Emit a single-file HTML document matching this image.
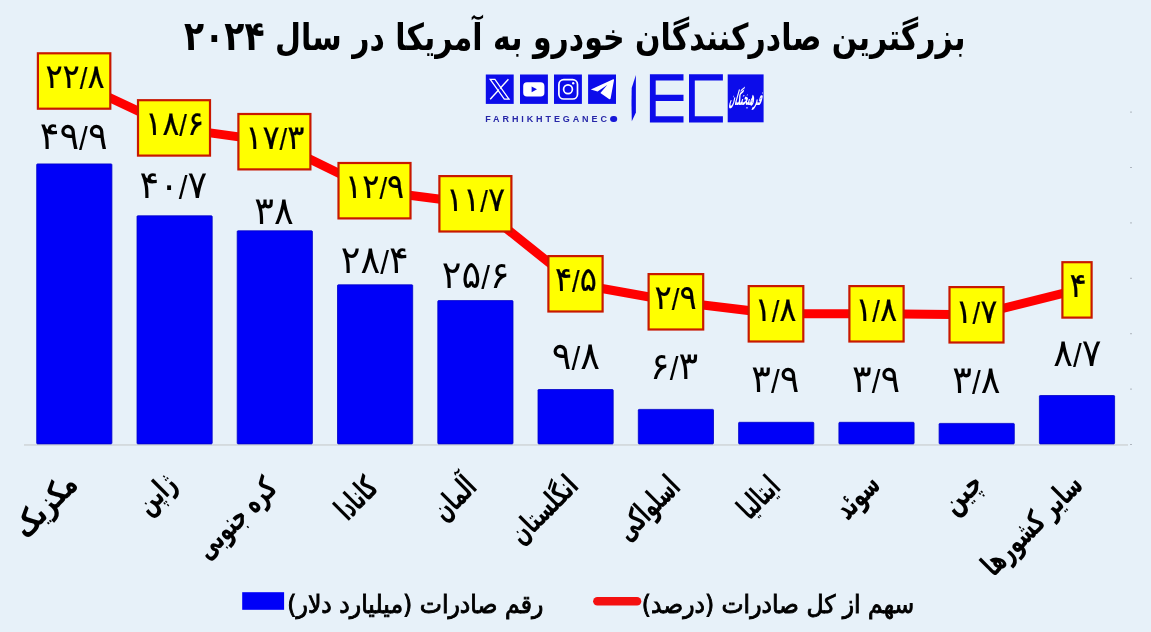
<!DOCTYPE html>
<html lang="fa">
<head>
<meta charset="utf-8">
<title>بزرگترین صادرکنندگان خودرو به آمریکا در سال ۲۰۲۴</title>
<style>
html,body{margin:0;padding:0;background:#e7f1f9;}
#chart{position:relative;width:1151px;height:632px;background:#e7f1f9;overflow:hidden;font-family:"Liberation Sans","DejaVu Sans",sans-serif;color:#000;}
#chart svg{position:absolute;left:0;top:0;}
.t{position:absolute;left:0;top:0;white-space:nowrap;line-height:1;transform-origin:0 0;margin:0;padding:0;}
.fa{font-family:"DejaVu Sans","Liberation Sans",sans-serif;direction:rtl;}
.title{font-weight:bold;}
.td{font-size:1.1em;letter-spacing:0.1em;line-height:0;}
.ax{font-weight:bold;}
.lg{font-weight:normal;-webkit-text-stroke:0.9px #000;}
.bx{-webkit-text-stroke:0.2px #000;}
.num2{font-family:"Liberation Sans","DejaVu Sans",sans-serif;direction:ltr;unicode-bidi:isolate;}
.sl{font-size:0.86em;position:relative;top:0.035em;}
.brand{font-family:"Liberation Sans",sans-serif;font-weight:bold;color:#2626a8;direction:ltr;}
.o{display:inline-block;width:6.6px;height:6.6px;border-radius:50%;background:#1818d8;color:#1818d8;font-size:5px;line-height:6.6px;letter-spacing:0;overflow:hidden;vertical-align:-0.4px;margin-left:0.3px;}
.callig{font-family:"DejaVu Sans","Liberation Sans",sans-serif;color:#fff;direction:rtl;font-weight:bold;}
</style>
</head>
<body>
<div id="chart">
<svg width="1151" height="632" viewBox="0 0 1151 632">
<rect x="24" y="444.1" width="1104" height="1.7" fill="#d2d7db"/>
<rect x="1130" y="111.6" width="2" height="1" fill="#8a9098" opacity="0.6"/>
<rect x="1130" y="167.0" width="2" height="1" fill="#8a9098" opacity="0.6"/>
<rect x="1130" y="222.4" width="2" height="1" fill="#8a9098" opacity="0.6"/>
<rect x="1130" y="277.8" width="2" height="1" fill="#8a9098" opacity="0.6"/>
<rect x="1130" y="333.2" width="2" height="1" fill="#8a9098" opacity="0.6"/>
<rect x="1130" y="388.6" width="2" height="1" fill="#8a9098" opacity="0.6"/>
<rect x="1130" y="444.0" width="2" height="1" fill="#8a9098" opacity="0.6"/>
<rect x="36.7" y="163.9" width="75.2" height="280.0" rx="0.8" fill="#0000f8" stroke="#0000c8" stroke-width="0.8"/>
<rect x="137.0" y="215.8" width="75.2" height="228.1" rx="0.8" fill="#0000f8" stroke="#0000c8" stroke-width="0.8"/>
<rect x="237.2" y="230.8" width="75.2" height="213.1" rx="0.8" fill="#0000f8" stroke="#0000c8" stroke-width="0.8"/>
<rect x="337.5" y="284.8" width="75.2" height="159.1" rx="0.8" fill="#0000f8" stroke="#0000c8" stroke-width="0.8"/>
<rect x="437.8" y="300.6" width="75.2" height="143.3" rx="0.8" fill="#0000f8" stroke="#0000c8" stroke-width="0.8"/>
<rect x="538.0" y="389.5" width="75.2" height="54.4" rx="0.8" fill="#0000f8" stroke="#0000c8" stroke-width="0.8"/>
<rect x="638.3" y="409.4" width="75.2" height="34.5" rx="0.8" fill="#0000f8" stroke="#0000c8" stroke-width="0.8"/>
<rect x="738.6" y="422.3" width="75.2" height="21.6" rx="0.8" fill="#0000f8" stroke="#0000c8" stroke-width="0.8"/>
<rect x="838.9" y="422.3" width="75.2" height="21.6" rx="0.8" fill="#0000f8" stroke="#0000c8" stroke-width="0.8"/>
<rect x="939.1" y="423.4" width="75.2" height="20.5" rx="0.8" fill="#0000f8" stroke="#0000c8" stroke-width="0.8"/>
<rect x="1039.4" y="395.5" width="75.2" height="48.4" rx="0.8" fill="#0000f8" stroke="#0000c8" stroke-width="0.8"/>
<polyline points="74.1,81.0 174.0,127.9 274.4,141.7 374.5,190.7 475.4,203.8 575.5,283.8 675.9,301.8 776.0,313.8 876.5,313.8 976.5,314.8 1077.0,289.9" fill="none" stroke="#ff0000" stroke-width="9" stroke-linejoin="round"/>
<rect x="37.9" y="53.3" width="72.4" height="55.4" fill="#ffff00" stroke="#c81800" stroke-width="2.2"/>
<rect x="138.0" y="100.2" width="72.0" height="55.4" fill="#ffff00" stroke="#c81800" stroke-width="2.2"/>
<rect x="238.4" y="114.0" width="72.0" height="55.4" fill="#ffff00" stroke="#c81800" stroke-width="2.2"/>
<rect x="338.5" y="163.0" width="72.0" height="55.4" fill="#ffff00" stroke="#c81800" stroke-width="2.2"/>
<rect x="439.4" y="176.1" width="72.0" height="55.4" fill="#ffff00" stroke="#c81800" stroke-width="2.2"/>
<rect x="548.4" y="256.1" width="54.2" height="55.4" fill="#ffff00" stroke="#c81800" stroke-width="2.2"/>
<rect x="648.6" y="274.1" width="54.6" height="55.4" fill="#ffff00" stroke="#c81800" stroke-width="2.2"/>
<rect x="748.7" y="286.1" width="54.6" height="55.4" fill="#ffff00" stroke="#c81800" stroke-width="2.2"/>
<rect x="849.4" y="286.1" width="54.2" height="55.4" fill="#ffff00" stroke="#c81800" stroke-width="2.2"/>
<rect x="949.5" y="287.1" width="54.0" height="55.4" fill="#ffff00" stroke="#c81800" stroke-width="2.2"/>
<rect x="1062.4" y="262.2" width="29.2" height="55.4" fill="#ffff00" stroke="#c81800" stroke-width="2.2"/>
<rect x="242.2" y="592.2" width="41.9" height="17.6" fill="#0000f8"/>
<line x1="597.4" y1="601.2" x2="637" y2="601.2" stroke="#f41010" stroke-width="8.6" stroke-linecap="round"/>
<rect x="485.8" y="74.5" width="27.9" height="29.4" fill="#0c0cea"/>
<rect x="520.0" y="74.5" width="27.9" height="29.4" fill="#0c0cea"/>
<rect x="554.0" y="74.5" width="27.9" height="29.4" fill="#0c0cea"/>
<rect x="588.1" y="74.5" width="27.9" height="29.4" fill="#0c0cea"/>
<path d="M490.2 79.4 H494.9 L509 99.1 H504.3 Z" fill="none" stroke="#fff" stroke-width="1.3" stroke-linejoin="miter"/><path d="M508.4 79.3 L490.2 99.2" stroke="#fff" stroke-width="1.4" fill="none"/><path d="M492.6 80.4 H494.3 L506.6 98.1 H504.9 Z" fill="#0c0cea"/>
<rect x="523.2" y="82.2" width="21.2" height="14.3" rx="3.8" fill="#fff"/><path d="M531.6 86.4 L537.0 89.35 L531.6 92.3 Z" fill="#0c0cea"/>
<rect x="558.9" y="79.7" width="18.6" height="19.3" rx="4.8" fill="none" stroke="#fff" stroke-width="1.7"/><circle cx="568" cy="89.2" r="4.4" fill="none" stroke="#fff" stroke-width="1.7"/><circle cx="573.2" cy="83.3" r="1.2" fill="#fff"/>
<path d="M590.8 89.4 L613.2 79.3 Q614.2 79 614 80.2 L610.6 98.6 Q610.2 99.9 609 99 L600.4 93 L607.2 84.9 L597.6 91.4 Z" fill="#fff"/>
<path d="M635.9 75 V112.5 L631.8 121.3 Q631.2 104 631.7 88 Z" fill="#0c0cea"/>
<path d="M649.9 74.3 H683.5 V80.6 H655.7 V94.8 H683.5 V101 H655.7 V116.2 H683.5 V122.5 H649.9 Z" fill="#0c0cea"/>
<path d="M689 74.3 H722.9 V80.6 H694.8 V116.2 H722.9 V122.5 H689 Z" fill="#0c0cea"/>
<rect x="727.7" y="74.4" width="35.9" height="47.9" fill="#0c0cea"/>
</svg>
<span id="title" class="t fa title" style="font-size:37px;transform:translate(184.10px,18.60px) scale(0.8100,1);">بزرگترین صادرکنندگان خودرو به آمریکا در سال <span class="td">۲۰۲۴</span></span>
<span id="brand" class="t brand" style="font-size:9px;letter-spacing:2.90px;transform:translate(485.20px,114.90px)">FARHIKHTEGANEC<span class="o">O</span></span>
<span id="callig" class="t callig" style="font-size:10px;transform:translate(733.40px,88.80px) skewX(-16deg) scale(0.6056,2.0367)">فرهیختگان</span>
<span id="box0" class="t num2 bx" style="font-size:34.07px;transform:translate(45.40px,59.10px) scale(0.9391,1);">۲۲<span class="sl">/</span>۸</span>
<span id="box1" class="t num2 bx" style="font-size:34.07px;transform:translate(144.95px,106.25px) scale(0.9391,1);">۱۸<span class="sl">/</span>۶</span>
<span id="box2" class="t num2 bx" style="font-size:34.07px;transform:translate(245.20px,119.85px) scale(0.9391,1);">۱۷<span class="sl">/</span>۳</span>
<span id="box3" class="t num2 bx" style="font-size:34.07px;transform:translate(345.10px,168.60px) scale(0.9391,1);">۱۲<span class="sl">/</span>۹</span>
<span id="box4" class="t num2 bx" style="font-size:34.07px;transform:translate(445.90px,182.00px) scale(0.9391,1);">۱۱<span class="sl">/</span>۷</span>
<span id="box5" class="t num2 bx" style="font-size:34.07px;transform:translate(554.90px,262.20px) scale(0.9391,1);">۴<span class="sl">/</span>۵</span>
<span id="box6" class="t num2 bx" style="font-size:34.07px;transform:translate(654.60px,280.00px) scale(0.9391,1);">۲<span class="sl">/</span>۹</span>
<span id="box7" class="t num2 bx" style="font-size:34.07px;transform:translate(754.50px,292.05px) scale(0.9391,1);">۱<span class="sl">/</span>۸</span>
<span id="box8" class="t num2 bx" style="font-size:34.07px;transform:translate(855.15px,292.05px) scale(0.9391,1);">۱<span class="sl">/</span>۸</span>
<span id="box9" class="t num2 bx" style="font-size:34.07px;transform:translate(955.35px,293.50px) scale(0.9391,1);">۱<span class="sl">/</span>۷</span>
<span id="box10" class="t num2 bx" style="font-size:34.07px;transform:translate(1069.50px,267.60px) scale(0.9391,1);">۴</span>
<span id="bar0" class="t num2 bl" style="font-size:38.22px;transform:translate(39.75px,116.85px) scale(0.9589,1);">۴۹<span class="sl">/</span>۹</span>
<span id="bar1" class="t num2 bl" style="font-size:38.22px;transform:translate(139.45px,166.20px) scale(0.9589,1);">۴۰<span class="sl">/</span>۷</span>
<span id="bar2" class="t num2 bl" style="font-size:38.22px;transform:translate(254.30px,192.05px) scale(0.9589,1);">۳۸</span>
<span id="bar3" class="t num2 bl" style="font-size:38.22px;transform:translate(340.85px,241.15px) scale(0.9589,1);">۲۸<span class="sl">/</span>۴</span>
<span id="bar4" class="t num2 bl" style="font-size:38.22px;transform:translate(441.80px,256.10px) scale(0.9589,1);">۲۵<span class="sl">/</span>۶</span>
<span id="bar5" class="t num2 bl" style="font-size:38.22px;transform:translate(551.70px,336.70px) scale(0.9589,1);">۹<span class="sl">/</span>۸</span>
<span id="bar6" class="t num2 bl" style="font-size:38.22px;transform:translate(650.05px,347.25px) scale(0.9589,1);">۶<span class="sl">/</span>۳</span>
<span id="bar7" class="t num2 bl" style="font-size:38.22px;transform:translate(751.35px,360.35px) scale(0.9589,1);">۳<span class="sl">/</span>۹</span>
<span id="bar8" class="t num2 bl" style="font-size:38.22px;transform:translate(851.95px,360.35px) scale(0.9589,1);">۳<span class="sl">/</span>۹</span>
<span id="bar9" class="t num2 bl" style="font-size:38.22px;transform:translate(952.25px,361.40px) scale(0.9589,1);">۳<span class="sl">/</span>۸</span>
<span id="bar10" class="t num2 bl" style="font-size:38.22px;transform:translate(1053.30px,334.05px) scale(0.9589,1);">۸<span class="sl">/</span>۷</span>
<span id="ax0" class="t fa ax" style="font-size:32.5px;transform:translate(7.05px,520.45px) rotate(-45deg) scale(0.720,1)">مکزیک</span>
<span id="ax1" class="t fa ax" style="font-size:30.5px;transform:translate(130.60px,498.35px) rotate(-45deg) scale(0.640,1)">ژاپن</span>
<span id="ax2" class="t fa ax" style="font-size:31.5px;transform:translate(189.40px,542.40px) rotate(-45deg) scale(0.600,1)">کره جنوبی</span>
<span id="ax3" class="t fa ax" style="font-size:31.5px;transform:translate(329.25px,503.35px) rotate(-45deg) scale(0.560,1)">کانادا</span>
<span id="ax4" class="t fa ax" style="font-size:30.5px;transform:translate(426.70px,504.75px) rotate(-45deg) scale(0.600,1)">آلمان</span>
<span id="ax5" class="t fa ax" style="font-size:29.5px;transform:translate(504.55px,528.70px) rotate(-45deg) scale(0.640,1)">انگلستان</span>
<span id="ax6" class="t fa ax" style="font-size:31.5px;transform:translate(609.75px,523.90px) rotate(-45deg) scale(0.560,1)">اسلواکی</span>
<span id="ax7" class="t fa ax" style="font-size:30.5px;transform:translate(731.95px,503.05px) rotate(-45deg) scale(0.560,1)">ایتالیا</span>
<span id="ax8" class="t fa ax" style="font-size:31.5px;transform:translate(829.00px,502.55px) rotate(-45deg) scale(0.600,1)">سوئد</span>
<span id="ax9" class="t fa ax" style="font-size:31.5px;transform:translate(935.55px,497.45px) rotate(-45deg) scale(0.680,1)">چین</span>
<span id="ax10" class="t fa ax" style="font-size:30.5px;transform:translate(976.00px,559.75px) rotate(-45deg) scale(0.640,1)">سایر کشورها</span>
<span id="lg1" class="t fa lg" style="font-size:25px;transform:translate(287.30px,592.20px) scale(0.9428,1);">رقم صادرات (میلیارد دلار)</span>
<span id="lg2" class="t fa lg" style="font-size:25px;transform:translate(641.80px,592.20px) scale(0.9380,1);">سهم از کل صادرات (درصد)</span>
</div>
</body>
</html>
